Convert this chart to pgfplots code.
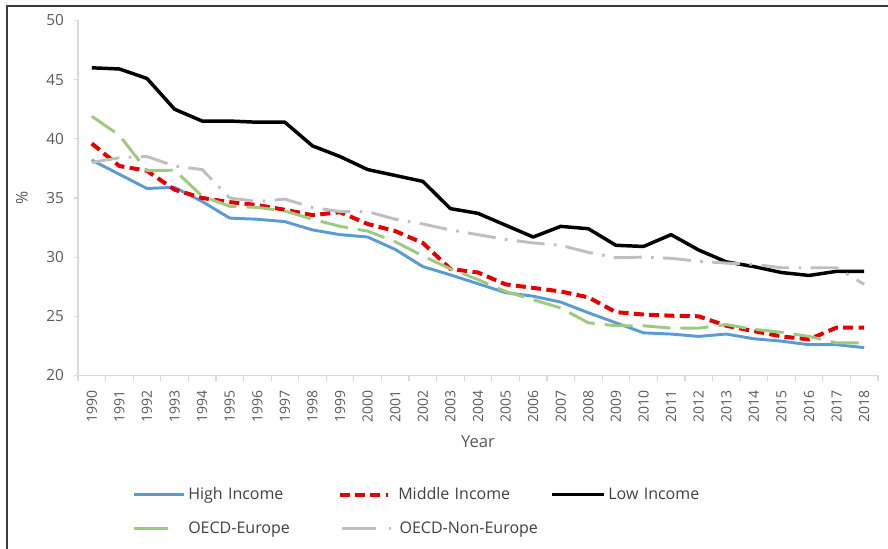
\documentclass[border=0pt]{standalone}
\usepackage{fontspec}
\setmainfont{Open Sans}
\usepackage{pgfplots}
\pgfplotsset{compat=1.18}
\definecolor{hiC}{HTML}{5B9BD5}
\definecolor{midC}{HTML}{E50000}
\definecolor{lowC}{HTML}{000000}
\definecolor{euC}{HTML}{9CCB7F}
\definecolor{neC}{HTML}{BFBFBF}
\definecolor{axC}{HTML}{D9D9D9}
\definecolor{txC}{HTML}{595959}
\definecolor{lgC}{HTML}{404040}
\definecolor{frC}{HTML}{3A3A3A}
\pgfplotsset{
  limg/.style={legend image code/.code={\draw[##1] (0pt,0pt) -- (#1,0pt);}},
  limgmid/.style={legend image code/.code={\draw[##1] (0pt,0pt) -- (36pt,0pt); \path (40.5pt,0pt);}},
  limgeu/.style={legend image code/.code={\draw[##1, solid] (0pt,0pt) -- (25.5pt,0pt); \path (37.5pt,0pt);}},
  limgne/.style={legend image code/.code={\draw[##1, solid] (2pt,0pt) -- (27.5pt,0pt); \draw[##1, solid] (37pt,0pt) -- (38.5pt,0pt);}},
}
\pgfplotstableread{
x hi mid low eu ne
0 38.2 39.6 46.0 41.9 38.0
1 37.0 37.7 45.9 40.3 38.4
2 35.8 37.3 45.1 37.3 38.5
3 35.9 35.7 42.5 37.35 37.7
4 34.7 35.0 41.5 35.15 37.4
5 33.3 34.65 41.5 34.3 35.0
6 33.2 34.4 41.4 34.2 34.7
7 33.0 34.0 41.4 33.9 34.9
8 32.3 33.55 39.4 33.2 34.2
9 31.9 33.8 38.5 32.6 33.85
10 31.7 32.8 37.4 32.2 33.85
11 30.65 32.2 36.9 31.3 33.2
12 29.2 31.2 36.4 30.1 32.8
13 28.5 29.0 34.1 29.0 32.3
14 27.75 28.7 33.7 28.1 31.9
15 27.0 27.7 32.7 27.1 31.5
16 26.7 27.4 31.7 26.4 31.2
17 26.2 27.1 32.6 25.7 31.0
18 25.3 26.6 32.4 24.45 30.4
19 24.45 25.35 31.0 24.2 29.95
20 23.6 25.15 30.9 24.2 30.0
21 23.5 25.05 31.9 24.0 29.9
22 23.3 25.0 30.6 24.0 29.65
23 23.5 24.2 29.6 24.3 29.5
24 23.1 23.75 29.2 23.9 29.4
25 22.9 23.3 28.7 23.65 29.1
26 22.6 23.05 28.45 23.3 29.1
27 22.6 24.05 28.8 22.75 29.1
28 22.35 24.05 28.8 22.75 27.7
}\datatable
\begin{document}
\begin{tikzpicture}
\path[use as bounding box] (-58.5pt,-130.1pt) rectangle (607.5pt,281.6pt);
\draw[frC, line width=1.5pt] (-53.25pt,-131pt) -- (-53.25pt,277.1pt) -- (608pt,277.1pt);
\begin{axis}[
  at={(0pt,0pt)}, anchor=south west,
  scale only axis, width=600pt, height=266.25pt,
  xmin=-0.5, xmax=28.5, ymin=20, ymax=50,
  axis x line*=bottom, axis y line*=left,
  axis line style={draw=axC, line width=0.9pt},
  tick align=outside,
  xtick={0,...,28},
  xticklabels={1990,1991,1992,1993,1994,1995,1996,1997,1998,1999,2000,2001,2002,2003,2004,2005,2006,2007,2008,2009,2010,2011,2012,2013,2014,2015,2016,2017,2018},
  major x tick style={draw=none},
  minor xtick={-0.5,0.5,...,28.5},
  minor x tick style={draw=axC, line width=0.9pt},
  minor tick length=4.5pt,
  ytick={20,25,...,50},
  major y tick style={draw=axC, line width=0.9pt},
  major tick length=3pt,
  /pgf/number format/assume math mode=true,
  tick label style={font=\fontsize{11.5}{13}\selectfont, text=txC},
  x tick label style={rotate=90, anchor=east, xshift=-4.5pt, font=\fontsize{10.5}{12}\selectfont},
  y tick label style={xshift=-4pt},
  xlabel={Year},
  xlabel style={at={(axis description cs:0.5,-0.186)}, anchor=center, font=\fontsize{12.5}{14}\selectfont, text=txC},
  ylabel={\%},
  ylabel style={at={(axis description cs:-0.07,0.5)}, anchor=center, font=\fontsize{12}{14}\selectfont, text=txC},
  legend columns=3,
  legend style={draw=none, fill=none, at={(axis description cs:0.063,-0.30)}, anchor=north west,
    font=\fontsize{12}{14}\selectfont, text=lgC,
    nodes={text width=110pt, align=left, inner sep=2pt},
    /tikz/column sep=0pt, /tikz/row sep=11pt},
]
\addplot[hiC, line width=2.2pt, line join=round, limg=37.5pt] table[x=x,y=hi] {\datatable};
\addlegendentry{High Income}
\addplot[midC, line width=3pt, line join=round, dash pattern=on 7.5pt off 4pt, limgmid] table[x=x,y=mid] {\datatable};
\addlegendentry[text width=112pt]{Middle Income}
\addplot[lowC, line width=2.6pt, line join=round, limg=39pt] table[x=x,y=low] {\datatable};
\addlegendentry{Low Income}
\addplot[euC, line width=2.2pt, line join=round, dash pattern=on 21pt off 7.5pt, limgeu] table[x=x,y=eu] {\datatable};
\addlegendentry{OECD-Europe}
\addplot[neC, line width=2.2pt, line join=round, dash pattern=on 21pt off 7pt on 2pt off 7pt, limgne] table[x=x,y=ne] {\datatable};
\addlegendentry{OECD-Non-Europe}
\end{axis}
\end{tikzpicture}
\end{document}
